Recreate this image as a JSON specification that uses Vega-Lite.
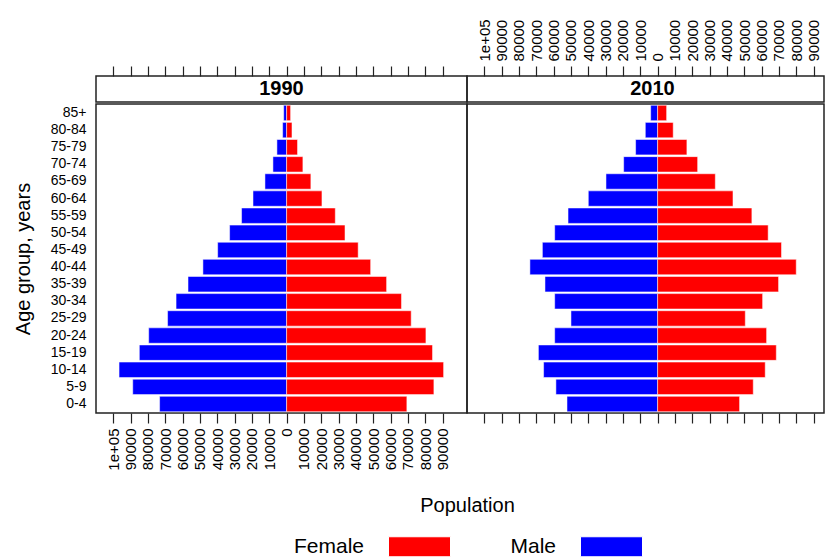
{
  "$schema": "https://vega.github.io/schema/vega-lite/v6.json",
  "padding": {"left": 12, "top": 18, "right": 0, "bottom": 0},
  "background": "white",
  "datasets": {
    "pop": [
      {"year": 1990, "sex": "Male", "age": "85+", "pop": 1700},
      {"year": 1990, "sex": "Female", "age": "85+", "pop": 2300},
      {"year": 1990, "sex": "Male", "age": "80-84", "pop": 2300},
      {"year": 1990, "sex": "Female", "age": "80-84", "pop": 3100},
      {"year": 1990, "sex": "Male", "age": "75-79", "pop": 5600},
      {"year": 1990, "sex": "Female", "age": "75-79", "pop": 6300},
      {"year": 1990, "sex": "Male", "age": "70-74", "pop": 7900},
      {"year": 1990, "sex": "Female", "age": "70-74", "pop": 9400},
      {"year": 1990, "sex": "Male", "age": "65-69", "pop": 12500},
      {"year": 1990, "sex": "Female", "age": "65-69", "pop": 14000},
      {"year": 1990, "sex": "Male", "age": "60-64", "pop": 19400},
      {"year": 1990, "sex": "Female", "age": "60-64", "pop": 20400},
      {"year": 1990, "sex": "Male", "age": "55-59", "pop": 26000},
      {"year": 1990, "sex": "Female", "age": "55-59", "pop": 28100},
      {"year": 1990, "sex": "Male", "age": "50-54", "pop": 32900},
      {"year": 1990, "sex": "Female", "age": "50-54", "pop": 33700},
      {"year": 1990, "sex": "Male", "age": "45-49", "pop": 39800},
      {"year": 1990, "sex": "Female", "age": "45-49", "pop": 41300},
      {"year": 1990, "sex": "Male", "age": "40-44", "pop": 48300},
      {"year": 1990, "sex": "Female", "age": "40-44", "pop": 48500},
      {"year": 1990, "sex": "Male", "age": "35-39", "pop": 56900},
      {"year": 1990, "sex": "Female", "age": "35-39", "pop": 57700},
      {"year": 1990, "sex": "Male", "age": "30-34", "pop": 63800},
      {"year": 1990, "sex": "Female", "age": "30-34", "pop": 66300},
      {"year": 1990, "sex": "Male", "age": "25-29", "pop": 68700},
      {"year": 1990, "sex": "Female", "age": "25-29", "pop": 71900},
      {"year": 1990, "sex": "Male", "age": "20-24", "pop": 79600},
      {"year": 1990, "sex": "Female", "age": "20-24", "pop": 80400},
      {"year": 1990, "sex": "Male", "age": "15-19", "pop": 85000},
      {"year": 1990, "sex": "Female", "age": "15-19", "pop": 84200},
      {"year": 1990, "sex": "Male", "age": "10-14", "pop": 96700},
      {"year": 1990, "sex": "Female", "age": "10-14", "pop": 90600},
      {"year": 1990, "sex": "Male", "age": "5-9", "pop": 88800},
      {"year": 1990, "sex": "Female", "age": "5-9", "pop": 85000},
      {"year": 1990, "sex": "Male", "age": "0-4", "pop": 73300},
      {"year": 1990, "sex": "Female", "age": "0-4", "pop": 69400},
      {"year": 2010, "sex": "Male", "age": "85+", "pop": 4000},
      {"year": 2010, "sex": "Female", "age": "85+", "pop": 5200},
      {"year": 2010, "sex": "Male", "age": "80-84", "pop": 7100},
      {"year": 2010, "sex": "Female", "age": "80-84", "pop": 9000},
      {"year": 2010, "sex": "Male", "age": "75-79", "pop": 12700},
      {"year": 2010, "sex": "Female", "age": "75-79", "pop": 16900},
      {"year": 2010, "sex": "Male", "age": "70-74", "pop": 19600},
      {"year": 2010, "sex": "Female", "age": "70-74", "pop": 23100},
      {"year": 2010, "sex": "Male", "age": "65-69", "pop": 29800},
      {"year": 2010, "sex": "Female", "age": "65-69", "pop": 33300},
      {"year": 2010, "sex": "Male", "age": "60-64", "pop": 40000},
      {"year": 2010, "sex": "Female", "age": "60-64", "pop": 43500},
      {"year": 2010, "sex": "Male", "age": "55-59", "pop": 51700},
      {"year": 2010, "sex": "Female", "age": "55-59", "pop": 54400},
      {"year": 2010, "sex": "Male", "age": "50-54", "pop": 59400},
      {"year": 2010, "sex": "Female", "age": "50-54", "pop": 63800},
      {"year": 2010, "sex": "Male", "age": "45-49", "pop": 66500},
      {"year": 2010, "sex": "Female", "age": "45-49", "pop": 71500},
      {"year": 2010, "sex": "Male", "age": "40-44", "pop": 73700},
      {"year": 2010, "sex": "Female", "age": "40-44", "pop": 80000},
      {"year": 2010, "sex": "Male", "age": "35-39", "pop": 65000},
      {"year": 2010, "sex": "Female", "age": "35-39", "pop": 69800},
      {"year": 2010, "sex": "Male", "age": "30-34", "pop": 59400},
      {"year": 2010, "sex": "Female", "age": "30-34", "pop": 60600},
      {"year": 2010, "sex": "Male", "age": "25-29", "pop": 50000},
      {"year": 2010, "sex": "Female", "age": "25-29", "pop": 50600},
      {"year": 2010, "sex": "Male", "age": "20-24", "pop": 59400},
      {"year": 2010, "sex": "Female", "age": "20-24", "pop": 62900},
      {"year": 2010, "sex": "Male", "age": "15-19", "pop": 68800},
      {"year": 2010, "sex": "Female", "age": "15-19", "pop": 68500},
      {"year": 2010, "sex": "Male", "age": "10-14", "pop": 65800},
      {"year": 2010, "sex": "Female", "age": "10-14", "pop": 62100},
      {"year": 2010, "sex": "Male", "age": "5-9", "pop": 58700},
      {"year": 2010, "sex": "Female", "age": "5-9", "pop": 55200},
      {"year": 2010, "sex": "Male", "age": "0-4", "pop": 52300},
      {"year": 2010, "sex": "Female", "age": "0-4", "pop": 47300}
    ]
  },
  "config": {
    "font": "Liberation Sans",
    "view": {"stroke": "#222", "strokeWidth": 1.5},
    "axis": {
      "labelFont": "Liberation Sans",
      "labelFontSize": 14,
      "labelColor": "#000",
      "tickColor": "#222",
      "tickWidth": 1.2,
      "tickSize": 10,
      "domain": false,
      "grid": false,
      "titleFont": "Liberation Sans",
      "titleFontSize": 20,
      "titleFontWeight": "normal",
      "titleColor": "#000"
    }
  },
  "spacing": 0,
  "resolve": {"scale": {"x": "independent", "y": "independent", "color": "shared"}},
  "vconcat": [
    {
      "spacing": 0,
      "bounds": "flush",
      "resolve": {"scale": {"x": "independent", "y": "independent"}},
      "hconcat": [
        {
          "width": 371,
          "height": 26,
          "data": {"values": [{"year": "1990"}]},
          "mark": {"type": "text", "fontSize": 20, "fontWeight": "bold", "color": "#000", "baseline": "middle", "align": "center"},
          "encoding": {
            "text": {"field": "year", "type": "nominal"},
            "x": {
              "datum": -2950,
              "type": "quantitative",
              "scale": {"domain": [-110000, 104100], "nice": false},
              "axis": {"orient": "top", "title": null, "labels": false,
                "values": [-100000, -90000, -80000, -70000, -60000, -50000, -40000, -30000, -20000, -10000, 0, 10000, 20000, 30000, 40000, 50000, 60000, 70000, 80000, 90000]}
            }
          }
        },
        {
          "width": 357,
          "height": 26,
          "data": {"values": [{"year": "2010"}]},
          "mark": {"type": "text", "fontSize": 20, "fontWeight": "bold", "color": "#000", "baseline": "middle", "align": "center"},
          "encoding": {
            "text": {"field": "year", "type": "nominal"},
            "x": {
              "datum": -2950,
              "type": "quantitative",
              "scale": {"domain": [-110000, 96020], "nice": false},
              "axis": {"orient": "top", "title": null, "labelAngle": -90, "labelPadding": 5, "labelFontSize": 15,
                "labelExpr": "abs(datum.value) >= 100000 ? '1e+05' : format(abs(datum.value), 'd')",
                "values": [-100000, -90000, -80000, -70000, -60000, -50000, -40000, -30000, -20000, -10000, 0, 10000, 20000, 30000, 40000, 50000, 60000, 70000, 80000, 90000]}
            }
          }
        }
      ]
    },
    {
      "spacing": 0,
      "bounds": "flush",
      "resolve": {"scale": {"x": "independent", "y": "independent", "color": "shared"}},
      "hconcat": [
        {
          "width": 371,
          "height": 309,
          "data": {"name": "pop"},
          "transform": [
            {"filter": "datum.year == 1990"},
            {"calculate": "datum.sex == 'Male' ? -datum.pop : datum.pop", "as": "signed"}
          ],
          "mark": {"type": "bar", "stroke": "white", "strokeWidth": 1, "strokeOpacity": 0.5},
          "encoding": {
            "y": {
              "field": "age", "type": "ordinal",
              "scale": {"domain": ["85+", "80-84", "75-79", "70-74", "65-69", "60-64", "55-59", "50-54", "45-49", "40-44", "35-39", "30-34", "25-29", "20-24", "15-19", "10-14", "5-9", "0-4"], "paddingInner": 0.1, "paddingOuter": 0.074},
              "axis": {"title": "Age group, years", "ticks": false, "labelPadding": 10, "titlePadding": 17}
            },
            "x": {
              "field": "signed", "type": "quantitative",
              "scale": {"domain": [-110000, 104100], "nice": false},
              "axis": {
                "orient": "bottom",
                "values": [-100000, -90000, -80000, -70000, -60000, -50000, -40000, -30000, -20000, -10000, 0, 10000, 20000, 30000, 40000, 50000, 60000, 70000, 80000, 90000],
                "labelExpr": "abs(datum.value) >= 100000 ? '1e+05' : format(abs(datum.value), 'd')",
                "labelAngle": -90,
                "labelPadding": 5,
                "labelFontSize": 15,
                "title": "Population",
                "titleX": 371,
                "titlePadding": 25
              }
            },
            "color": {
              "field": "sex", "type": "nominal",
              "scale": {"domain": ["Female", "Male"], "range": ["#FF0000", "#0000FF"]},
              "legend": {
                "orient": "none",
                "legendX": 313,
                "legendY": 460,
                "direction": "horizontal",
                "title": null,
                "symbolType": "M-3.1,-1H3.1V1H-3.1Z",
                "symbolSize": 400,
                "symbolStrokeColor": "#333",
                "symbolStrokeWidth": 1,
                "symbolOpacity": 1,
                "labelFontSize": 21,
                "labelFont": "Liberation Sans",
                "labelColor": "#000",
                "labelAlign": "right",
                "labelOffset": -66,
                "columnPadding": 57
              }
            }
          }
        },
        {
          "width": 357,
          "height": 309,
          "data": {"name": "pop"},
          "transform": [
            {"filter": "datum.year == 2010"},
            {"calculate": "datum.sex == 'Male' ? -datum.pop : datum.pop", "as": "signed"}
          ],
          "mark": {"type": "bar", "stroke": "white", "strokeWidth": 1, "strokeOpacity": 0.5},
          "encoding": {
            "y": {
              "field": "age", "type": "ordinal",
              "scale": {"domain": ["85+", "80-84", "75-79", "70-74", "65-69", "60-64", "55-59", "50-54", "45-49", "40-44", "35-39", "30-34", "25-29", "20-24", "15-19", "10-14", "5-9", "0-4"], "paddingInner": 0.1, "paddingOuter": 0.074},
              "axis": null
            },
            "x": {
              "field": "signed", "type": "quantitative",
              "scale": {"domain": [-110000, 96020], "nice": false},
              "axis": {
                "orient": "bottom", "labels": false, "title": null,
                "values": [-100000, -90000, -80000, -70000, -60000, -50000, -40000, -30000, -20000, -10000, 0, 10000, 20000, 30000, 40000, 50000, 60000, 70000, 80000, 90000]
              }
            },
            "color": {"field": "sex", "type": "nominal"}
          }
        }
      ]
    }
  ]
}
